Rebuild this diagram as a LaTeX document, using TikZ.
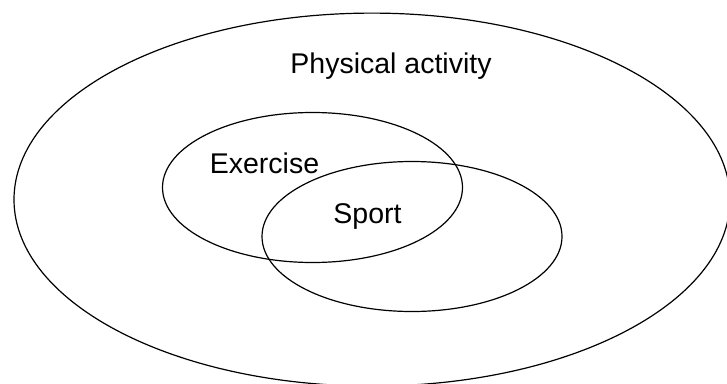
\documentclass[tikz,border=0pt]{standalone}
\usepackage{fontspec}
\setmainfont{Liberation Sans}
\usetikzlibrary{shapes.geometric}
\begin{document}
\begin{tikzpicture}[x=1pt,y=-1pt,
  set/.style={draw=black,line width=1.2pt,ellipse,inner sep=0pt},
  lbl/.style={anchor=base,inner sep=0pt,font=\fontsize{28.5}{30}\selectfont}]
  \useasboundingbox (0,0) rectangle (727,383);
  \clip (0,0) rectangle (727,383);
  % the three sets
  \node[set,minimum width=716pt,minimum height=373pt] (pa) at (372,199.6) {};
  \node[set,minimum width=300pt,minimum height=150pt] (ex) at (312.5,187.5) {};
  \node[set,minimum width=300pt,minimum height=150pt] (sp) at (412,236.5) {};
  % labels
  \node[lbl] (paL) at (391,73.3) {Physical activity};
  \node[lbl] (exL) at (264.5,173.3) {Exercise};
  \node[lbl] (spL) at (367.5,223.3) {Sport};
\end{tikzpicture}
\end{document}
